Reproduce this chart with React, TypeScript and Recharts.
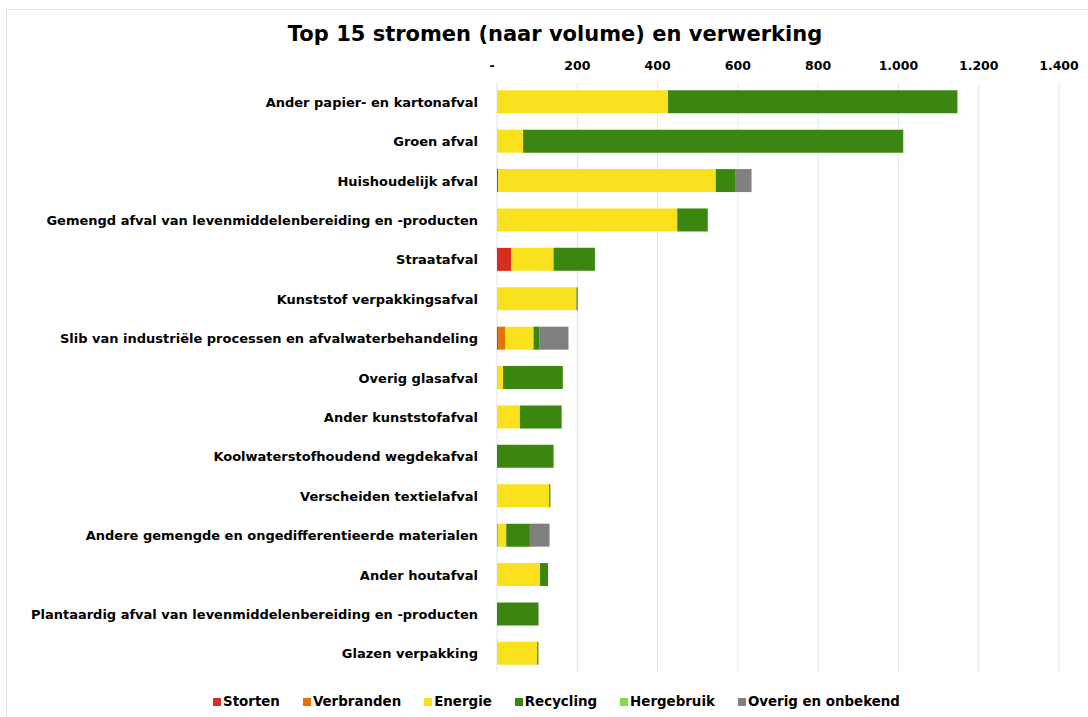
import { Bar, BarChart, CartesianGrid, XAxis, YAxis } from "recharts";

const categories = [
  "Ander papier- en kartonafval",
  "Groen afval",
  "Huishoudelijk afval",
  "Gemengd afval van levenmiddelenbereiding en -producten",
  "Straatafval",
  "Kunststof verpakkingsafval",
  "Slib van industriële processen en afvalwaterbehandeling",
  "Overig glasafval",
  "Ander kunststofafval",
  "Koolwaterstofhoudend wegdekafval",
  "Verscheiden textielafval",
  "Andere gemengde en ongedifferentieerde materialen",
  "Ander houtafval",
  "Plantaardig afval van levenmiddelenbereiding en -producten",
  "Glazen verpakking"
];

const storten = [0, 0, 3, 0, 35, 0, 3, 0, 0, 0, 0, 0, 0, 0, 0];
const verbranden = [0, 0, 0, 0, 0, 0, 18, 0, 0, 0, 0, 2, 0, 0, 0];
const energie = [426, 65, 542, 449, 106, 198, 70, 15, 57, 0, 130, 21, 107, 0, 100];
const recycling = [721, 947, 48, 76, 103, 3, 14, 149, 104, 141, 3, 59, 20, 103, 3];
const hergebruik = [0, 0, 0, 0, 0, 0, 0, 0, 0, 0, 0, 0, 0, 0, 0];
const overig = [0, 0, 41, 0, 0, 0, 73, 0, 0, 0, 0, 49, 0, 1, 0];

const xTicks = [0, 200, 400, 600, 800, 1000, 1200, 1400];

const series = [
  { key: "storten", name: "Storten", color: "#d92d20" },
  { key: "verbranden", name: "Verbranden", color: "#e87000" },
  { key: "energie", name: "Energie", color: "#f9e11e" },
  { key: "recycling", name: "Recycling", color: "#3b860e" },
  { key: "hergebruik", name: "Hergebruik", color: "#80e040" },
  { key: "overig", name: "Overig en onbekend", color: "#808080" }
];

const data = categories.map((name, i) => ({
  name,
  storten: storten[i],
  verbranden: verbranden[i],
  energie: energie[i],
  recycling: recycling[i],
  hergebruik: hergebruik[i],
  overig: overig[i]
}));

const FONT = "'DejaVu Sans', Verdana, sans-serif";

function formatTick(v: number) {
  if (v === 0) return "-";
  return v.toString().replace(/\B(?=(\d{3})+(?!\d))/g, ".");
}

function XTick(props: any) {
  const { x, y, payload } = props;
  const isZero = payload.value === 0;
  return (
    <text
      x={x}
      y={y}
      dx={isZero ? -5 : 0}
      textAnchor="middle"
      fontFamily={FONT}
      fontWeight="bold"
      fontSize={12.5}
      fill="#000"
    >
      {formatTick(payload.value)}
    </text>
  );
}

function YTick(props: any) {
  const { x, y, payload } = props;
  return (
    <text
      x={x}
      y={y}
      dy={5}
      textAnchor="end"
      fontFamily={FONT}
      fontWeight="bold"
      fontSize={13}
      fill="#000"
    >
      {payload.value}
    </text>
  );
}

function ChartLegend() {
  return (
    <div
      style={{
        position: "absolute",
        top: 694,
        left: 0,
        width: 1088,
        display: "flex",
        justifyContent: "center",
        gap: 23,
        paddingLeft: 25,
        boxSizing: "border-box",
        fontFamily: FONT,
        fontWeight: "bold",
        fontSize: 13.4,
        color: "#000"
      }}
    >
      {series.map((s) => (
        <div key={s.key} style={{ display: "flex", alignItems: "center" }}>
          <span
            style={{
              display: "inline-block",
              width: 8,
              height: 8,
              background: s.color,
              marginRight: 2
            }}
          />
          {s.name}
        </div>
      ))}
    </div>
  );
}

export default function App() {
  return (
    <div style={{ position: "relative", width: 1088, height: 717, background: "#fff", overflow: "hidden" }}>
      <style>{`body{margin:0}`}</style>
      <div
        style={{
          position: "absolute",
          left: 6,
          top: 9,
          width: 1200,
          height: 800,
          border: "1px solid #dce6f0"
        }}
      />
      <div
        style={{
          position: "absolute",
          top: 22,
          left: 0,
          width: 1110,
          textAlign: "center",
          fontFamily: FONT,
          fontWeight: "bold",
          fontSize: 21,
          color: "#000"
        }}
      >
        Top 15 stromen (naar volume) en verwerking
      </div>
      <div style={{ position: "absolute", top: 0, left: 0 }}>
        <BarChart
          width={1088}
          height={717}
          data={data}
          layout="vertical"
          margin={{ top: 52, right: 29, bottom: 44, left: 0 }}
          barCategoryGap="21%"
        >
          <CartesianGrid horizontal={false} stroke="#dfe6f0" />
          <XAxis
            type="number"
            orientation="top"
            domain={[0, 1400]}
            ticks={xTicks}
            interval={0}
            height={30}
            axisLine={false}
            tickLine={false}
            tickSize={0}
            tickMargin={12}
            tick={<XTick />}
          />
          <YAxis
            type="category"
            dataKey="name"
            width={497}
            interval={0}
            axisLine={false}
            tickLine={false}
            tickSize={0}
            tickMargin={19}
            tick={<YTick />}
          />
          {series.map((s) => (
            <Bar
              key={s.key}
              dataKey={s.key}
              name={s.name}
              stackId="a"
              fill={s.color}
              isAnimationActive={false}
            />
          ))}
        </BarChart>
      </div>
      <ChartLegend />
    </div>
  );
}
